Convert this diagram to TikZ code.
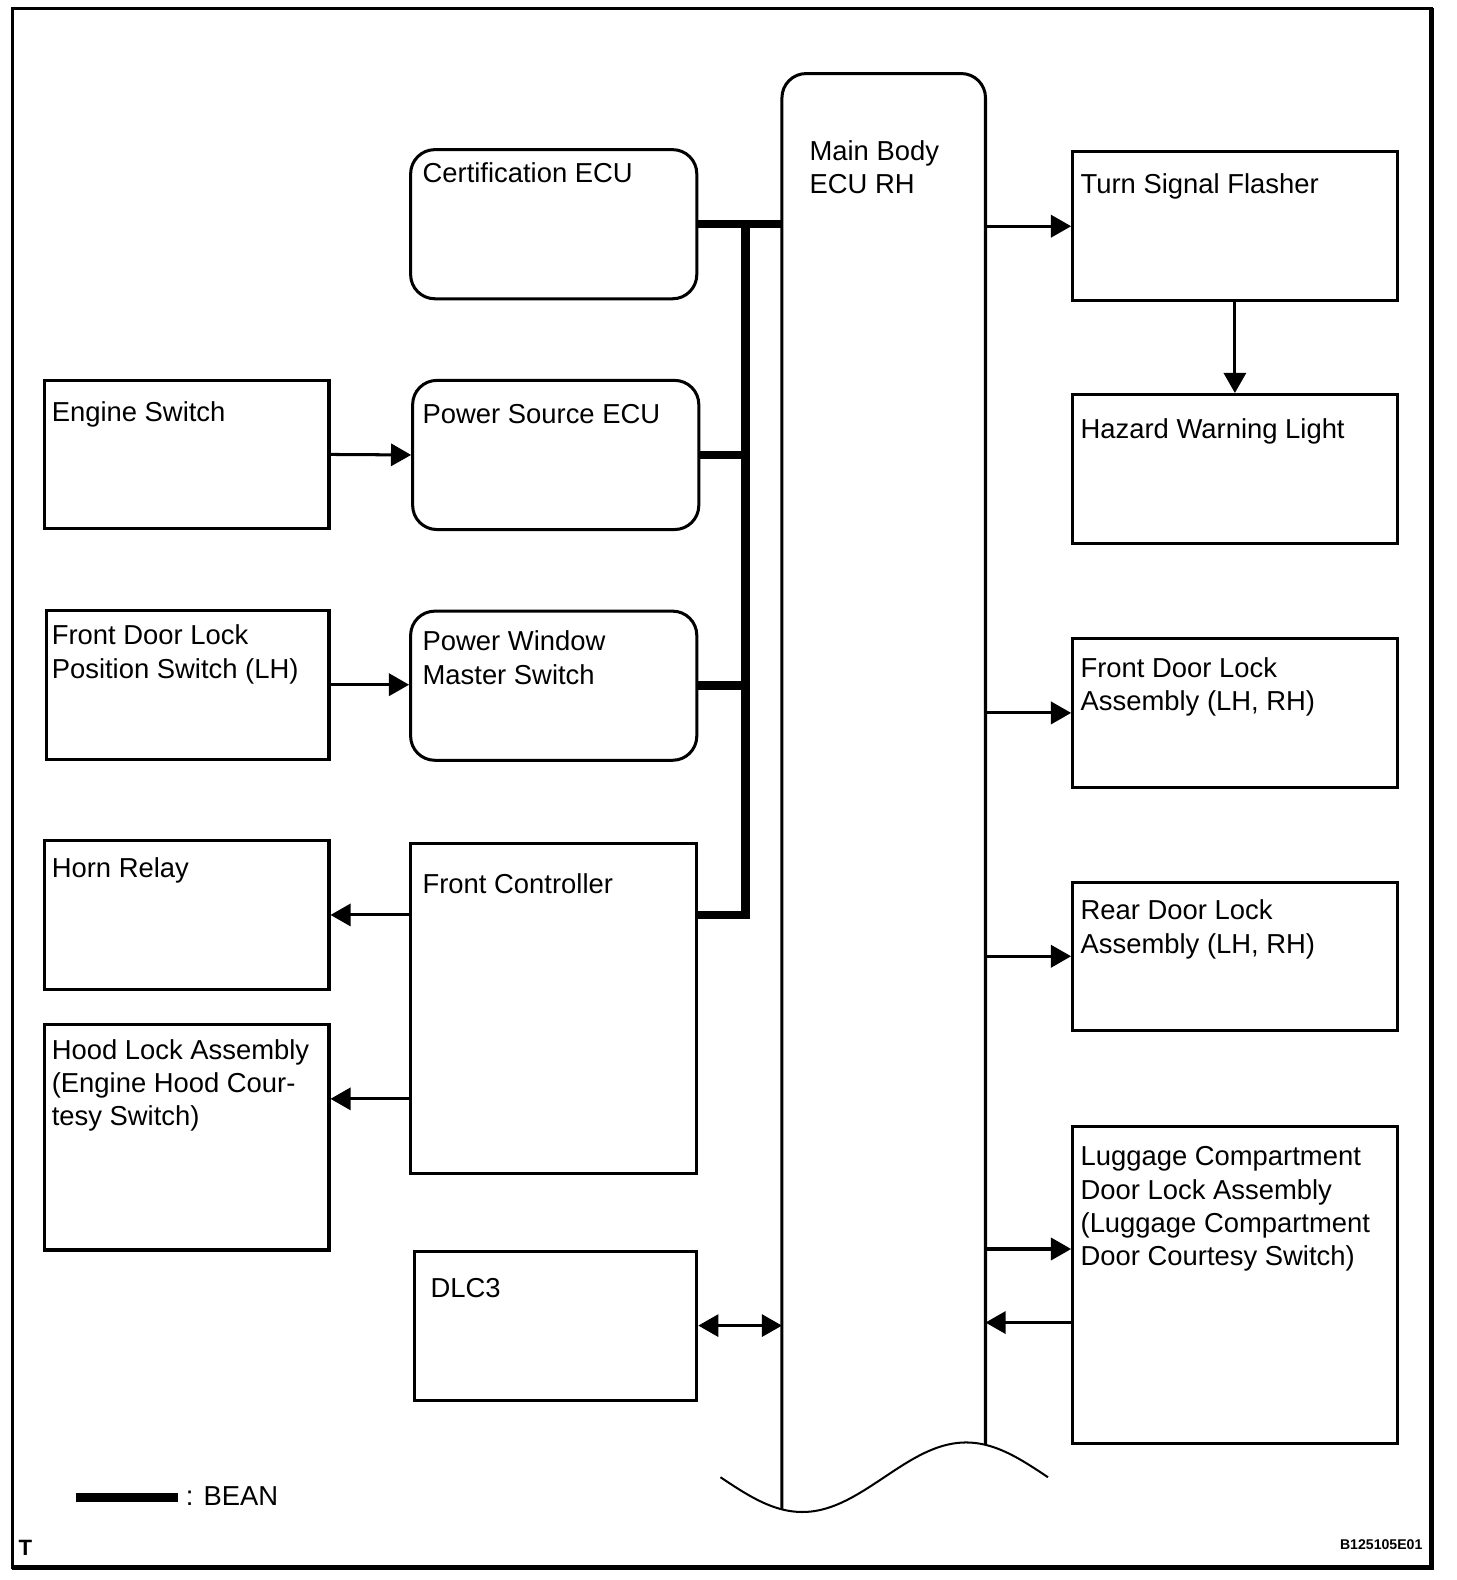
\documentclass[tikz,border=0pt]{standalone}
\usepackage{fontspec}
\setmainfont{Liberation Sans}
\usetikzlibrary{arrows.meta}

\tikzset{
  ubox/.style={draw, line width=1.5pt, anchor=north west, inner sep=0pt},
  lbox/.style={ubox, minimum width=141pt, minimum height=73.5pt},
  mbox/.style={ubox, rounded corners=12pt, minimum width=142pt, minimum height=74pt},
  rbox/.style={ubox, minimum width=161pt, minimum height=74pt},
  txt/.style={anchor=base west, inner sep=0pt, align=left,
    font=\fontsize{13.6}{16.5}\selectfont},
  tip/.tip={Triangle[length=10pt,width=11pt]},
  arr/.style={line width=1.5pt, -tip},
  bean/.style={line width=4.2pt},
}

\begin{document}
\begin{tikzpicture}[x=0.5pt, y=-0.5pt]
  \useasboundingbox (0,0) rectangle (1445,1568);
  % frame
  \draw[line width=1.5pt] (12,8) rectangle (1421,1556);
  \draw[line width=2.5pt] (12,1556) -- (1421,1556) -- (1421,8);

  % main body ecu
  \node[anchor=north west, inner sep=0pt, outer sep=0pt,
    minimum width=101pt, minimum height=712.5pt] (mb) at (776,73) {};
  \draw[line width=1.5pt, rounded corners=12pt] (mb.south west) -- (mb.north west)
    -- (mb.north east) -- ([yshift=32pt]mb.south east);
  \draw[line width=1pt] plot[domain=0:360, samples=73, smooth]
    ({715+0.9028*\x}, {1466+34.5*sin(\x)});
  % multi-line texts sit on the baseline of their last line
  \node[txt] (mb-t) at (803,192) {Main Body\\ECU RH};

  % middle column
  \node[mbox] (cert) at (406,147) {};
  \node[mbox] (pse) at (408,376) {};
  \node[mbox] (pwm) at (406,605) {};
  \node[ubox, minimum width=142pt, minimum height=163.5pt] (fc) at (406,836) {};
  \node[ubox, minimum width=140pt, minimum height=74pt] (dlc) at (410,1240) {};
  \node[txt] (cert-t) at (419,181) {Certification ECU};
  \node[txt] (pse-t) at (419,420) {Power Source ECU};
  \node[txt] (pwm-t) at (419,679) {Power Window\\Master Switch};
  \node[txt] (fc-t) at (419,887) {Front Controller};
  \node[txt] (dlc-t) at (427,1288) {DLC3};

  % left column
  \node[lbox] (es) at (43,376) {};
  \node[lbox, minimum width=140pt, minimum height=74pt] (fdp) at (45,604) {};
  \node[lbox] (hr) at (43,833) {};
  \node[lbox, minimum height=112pt] (hl) at (43,1015) {};
  \node[txt] (es-t) at (51,418) {Engine Switch};
  \node[txt] (fdp-t) at (51,673) {Front Door Lock\\Position Switch (LH)};
  \node[txt] (hr-t) at (51,871) {Horn Relay};
  \node[txt] (hl-t) at (51,1117) {Hood Lock Assembly\\(Engine Hood Cour-\\tesy Switch)};

  % right column
  \node[rbox] (tsf) at (1063,149) {};
  \node[rbox] (hwl) at (1063,390) {};
  \node[rbox] (fda) at (1063,632) {};
  \node[rbox, minimum height=73.5pt] (rda) at (1063,874) {};
  \node[rbox, minimum height=157.5pt] (lug) at (1063,1116) {};
  \node[txt] (tsf-t) at (1072,192) {Turn Signal Flasher};
  \node[txt] (hwl-t) at (1072,435) {Hazard Warning Light};
  \node[txt] (fda-t) at (1072,705) {Front Door Lock\\Assembly (LH, RH)};
  \node[txt] (rda-t) at (1072,946) {Rear Door Lock\\Assembly (LH, RH)};
  \node[txt] (lug-t) at (1072,1256) {Luggage Compartment\\Door Lock Assembly\\(Luggage Compartment\\Door Courtesy Switch)};

  % BEAN bus
  \coordinate (bt) at ([xshift=23.5pt]cert.east);
  \draw[bean] (cert.east) -- (cert.east -| mb.west);
  \draw[bean] (hr.east -| fc.east) -| (bt);
  \draw[bean] (pse.east) -- (pse.east -| bt);
  \draw[bean] (pwm.east) -- (pwm.east -| bt);

  % signal lines
  \draw[arr] (es.east) -- (pse.west);
  \draw[arr] (fdp.east) -- (fdp.east -| pwm.west);
  \draw[arr] (hr.east -| fc.west) -- (hr.east);
  \draw[arr] ([yshift=19pt]hl.east -| fc.west) -- ([yshift=19pt]hl.east);
  \draw[arr, tip-tip] (dlc.east) -- (dlc.east -| mb.west);
  \draw[arr] (tsf.west -| mb.east) -- (tsf.west);
  \draw[arr] (tsf.south) -- (hwl.north);
  \draw[arr] (fda.west -| mb.east) -- (fda.west);
  \draw[arr] (rda.west -| mb.east) -- (rda.west);
  \draw[arr] ([yshift=17.75pt]lug.west -| mb.east) -- ([yshift=17.75pt]lug.west);
  \draw[arr] ([yshift=-18.75pt]lug.west) -- ([yshift=-18.75pt]lug.west -| mb.east);

  % legend
  \node[txt] (bean-t) at (184,1494) {: BEAN};
  \coordinate (bean-s) at (75,1486);
  \draw[bean] (bean-s) -- ([xshift=-3.5pt]bean-s -| bean-t.west);
  \node[anchor=base west, inner sep=0pt, font=\bfseries\fontsize{11}{13}\selectfont] (tmark) at (18,1544) {T};
  \node[anchor=base east, inner sep=0pt, font=\bfseries\fontsize{7}{8}\selectfont] (fig-id) at (1412,1538) {B125105E01};
\end{tikzpicture}
\end{document}
